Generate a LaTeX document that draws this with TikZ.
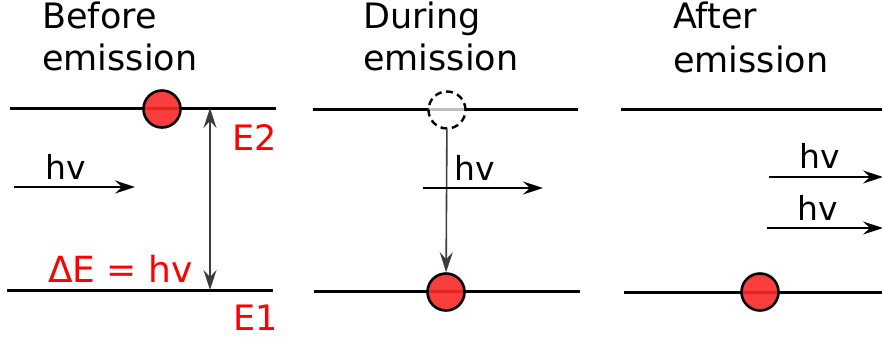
\documentclass[tikz,border=0pt]{standalone}
\usepackage{fontspec}
\setmainfont{DejaVu Sans}
\usetikzlibrary{arrows.meta}
\definecolor{elec}{RGB}{250,40,40}
\definecolor{lab}{RGB}{255,0,0}
\tikzset{
  level/.style={line width=3pt, black},
  elecnode/.style={circle, draw=black, line width=2.6pt, fill=elec, fill opacity=0.9, text opacity=1, minimum size=37pt, inner sep=0pt},
  holenode/.style={circle, draw=black, line width=2.4pt, dash pattern=on 7pt off 4.5pt, fill=white, fill opacity=0.75, minimum size=37pt, inner sep=0pt},
  head/.tip={Stealth[length=20pt,width=13pt,inset=7pt]},
  tip/.style={-head},
  photon/.style={tip, line width=1.6pt, black},
  transition/.style={line width=1.6pt, draw={rgb,255:red,60;green,60;blue,60}},
  title/.style={font=\fontsize{35}{42}\selectfont, anchor=base west, inner sep=0pt},
  hvlab/.style={font=\fontsize{33}{40}\selectfont, anchor=base west, inner sep=0pt},
  elab/.style={font=\fontsize{35}{42}\selectfont, text=lab, anchor=base west, inner sep=0pt},
}
\begin{document}
\begin{tikzpicture}[x=1pt,y=-1pt]
\useasboundingbox (0,0) rectangle (882,338);
% titles
\node[title] (t1a) at (42,28) {Before};
\node[title] (t1b) at (42,70) {emission};
\node[title] (t2a) at (363,28) {During};
\node[title] (t2b) at (363,70) {emission};
\node[title] (t3a) at (673,28) {After};
\node[title] (t3b) at (673,72) {emission};
% panel 1
\coordinate (p1tl) at (10,108); \coordinate (p1tr) at (276,108);
\coordinate (p1bl) at (7,290); \coordinate (p1br) at (273,290);
\draw[level] (p1tl) -- (p1tr);
\draw[level] (p1bl) -- (p1br);
\coordinate (p1up) at (210,108); \coordinate (p1dn) at (210,290);
\draw[transition, head-head] (p1up) -- (p1dn);
\node[elecnode] (e1) at (162,109) {};
\coordinate (ph1s) at (14,187); \coordinate (ph1e) at (135,187);
\draw[photon] (ph1s) -- (ph1e);
\node[hvlab] (hv1) at (45,179) {hv};
\node[elab] (E2) at (232,150) {E2};
\node[elab] (E1) at (233,330) {E1};
\node[elab, font=\fontsize{36}{42}\selectfont] (dE) at (48,282) {ΔE = hv};
% panel 2
\coordinate (p2tl) at (313,109); \coordinate (p2tr) at (578,109);
\coordinate (p2bl) at (314,291); \coordinate (p2br) at (580,291);
\draw[level] (p2tl) -- (p2tr);
\draw[level] (p2bl) -- (p2br);
\node[holenode] (h2) at (447,110) {};
\node[elecnode] (e2) at (446,292) {};
\draw[transition, tip] (h2) -- (e2);
\coordinate (ph2s) at (423,188); \coordinate (ph2e) at (543,188);
\draw[photon] (ph2s) -- (ph2e);
\node[hvlab] (hv2) at (454,180) {hv};
% panel 3
\coordinate (p3tl) at (621,109); \coordinate (p3tr) at (882,109);
\coordinate (p3bl) at (624,292); \coordinate (p3br) at (882,292);
\draw[level] (p3tl) -- (p3tr);
\draw[level] (p3bl) -- (p3br);
\node[elecnode] (e3) at (760,292) {};
\coordinate (ph3s) at (769,177); \coordinate (ph3e) at (883,177);
\draw[photon] (ph3s) -- (ph3e);
\node[hvlab] (hv3) at (799,168) {hv};
\coordinate (ph4s) at (767,228); \coordinate (ph4e) at (883,228);
\draw[photon] (ph4s) -- (ph4e);
\node[hvlab] (hv4) at (797,220) {hv};
\end{tikzpicture}
\end{document}
